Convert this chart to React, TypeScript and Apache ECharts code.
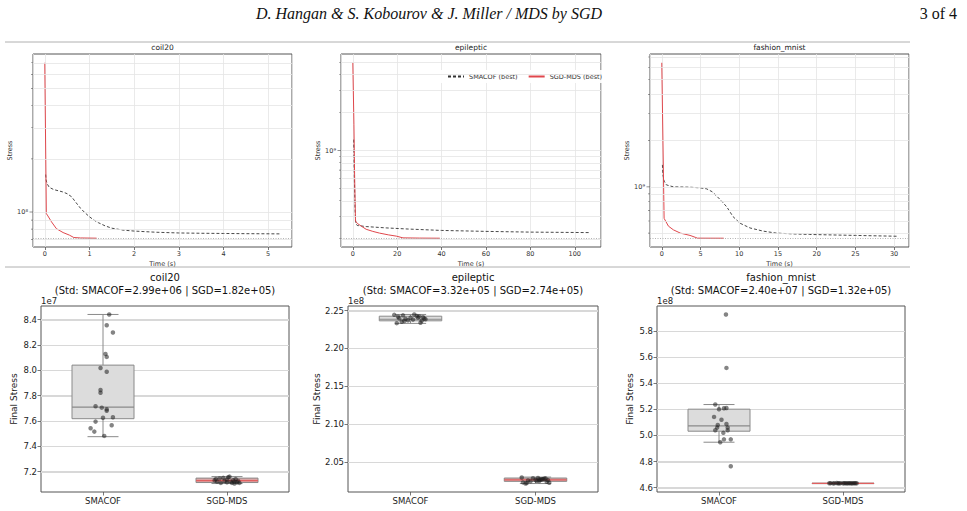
import React, { useEffect, useRef } from 'react';
import * as echarts from 'echarts';

// ---------- convergence traces: time (s) and stress ----------
const COIL_SMACOF_T = [0.02, 0.03, 0.05, 0.1, 0.2, 0.3, 0.4, 0.5, 0.6, 0.7, 0.8, 0.9, 1.0, 1.1, 1.2, 1.35, 1.5, 1.75, 2.0, 2.5, 3.0, 3.5, 4.0, 4.5, 5.27];
const COIL_SMACOF_S = [1.63e8, 1.52e8, 1.45e8, 1.38e8, 1.34e8, 1.32e8, 1.3e8, 1.27e8, 1.22e8, 1.13e8, 1.05e8, 9.9e7, 9.4e7, 9.0e7, 8.7e7, 8.35e7, 8.1e7, 7.9e7, 7.8e7, 7.68e7, 7.61e7, 7.58e7, 7.56e7, 7.54e7, 7.52e7];
const COIL_SGD_T = [0, 0.035, 0.07, 0.15, 0.26, 0.41, 0.55, 0.65, 0.8, 1.16];
const COIL_SGD_S = [7.0e8, 9.8e7, 9.5e7, 8.8e7, 8.05e7, 7.65e7, 7.4e7, 7.17e7, 7.13e7, 7.11e7];

const EPI_SMACOF_T = [0.4, 0.7, 1.0, 1.3, 2, 6, 15, 25, 40, 60, 80, 106.5];
const EPI_SMACOF_S = [1.22e9, 6.0e8, 3.5e8, 2.65e8, 2.55e8, 2.5e8, 2.44e8, 2.39e8, 2.33e8, 2.29e8, 2.26e8, 2.24e8];
const EPI_SGD_T = [0, 0.5, 0.8, 1.2, 2, 3.8, 6, 9, 12, 16, 19.6, 22.6, 30, 39.2];
const EPI_SGD_S = [4.95e9, 1.6e9, 6.5e8, 2.77e8, 2.65e8, 2.52e8, 2.38e8, 2.29e8, 2.22e8, 2.15e8, 2.1e8, 2.035e8, 2.027e8, 2.022e8];

const FM_SMACOF_T = [0.08, 0.15, 0.3, 0.6, 1.5, 3.6, 5, 5.8, 6.5, 7.1, 7.7, 8.4, 9.2, 10.1, 11.4, 13.1, 14.8, 17, 19.1, 25, 30.4];
const FM_SMACOF_S = [1.39e9, 1.2e9, 1.09e9, 1.03e9, 1.0e9, 0.995e9, 0.985e9, 0.97e9, 0.93e9, 0.87e9, 0.81e9, 0.74e9, 0.64e9, 0.58e9, 0.54e9, 0.515e9, 0.5e9, 0.494e9, 0.49e9, 0.483e9, 0.477e9];
const FM_SGD_T = [0, 0.3, 0.86, 1.5, 2.4, 3.65, 4.4, 4.6, 8.0];
const FM_SGD_S = [6.42e9, 6.24e8, 5.55e8, 5.25e8, 5.0e8, 4.83e8, 4.68e8, 4.635e8, 4.632e8];

// best final stress of SGD-MDS (dotted reference line)
const BEST_SGD = [7.105e7, 2.0215e8, 4.631e8];

// ---------- final stress distributions ----------
const CATEGORIES = ['SMACOF', 'SGD-MDS'];
// [lower whisker, Q1, median, Q3, upper whisker]
const COIL_BOX_SMACOF = [7.475, 7.617, 7.709, 8.04, 8.44];
const COIL_BOX_SGD = [7.105, 7.113, 7.128, 7.148, 7.16];
const EPI_BOX_SMACOF = [2.233, 2.2364, 2.2385, 2.2425, 2.2448];
const EPI_BOX_SGD = [2.0215, 2.0244, 2.0264, 2.0288, 2.03];
const FM_BOX_SMACOF = [4.948, 5.0325, 5.073, 5.2014, 5.237];
const FM_BOX_SGD = [4.631, 4.632, 4.633, 4.634, 4.635];

// individual runs (values in units of the axis offset) and their horizontal jitter
const COIL_PTS_SMACOF = [8.44, 8.355, 8.298, 8.128, 8.105, 8.017, 7.988, 7.843, 7.822, 7.715, 7.704, 7.691, 7.68, 7.625, 7.628, 7.594, 7.565, 7.542, 7.515, 7.481];
const COIL_JIT_SMACOF = [0.05, 0.03, 0.08, 0.02, 0.03, -0.02, 0.03, -0.02, -0.02, -0.06, -0.01, 0.03, 0.03, 0.0, 0.08, -0.06, 0.07, -0.1, -0.07, 0.01];
const COIL_PTS_SGD = [7.13, 7.12, 7.145, 7.11, 7.15, 7.125, 7.115, 7.155, 7.16, 7.12, 7.11, 7.13, 7.105, 7.14, 7.115, 7.125, 7.11, 7.14, 7.135, 7.12];
const COIL_JIT_SGD = [-0.1, -0.08, -0.06, -0.05, -0.03, -0.02, 0.0, 0.01, 0.02, 0.03, 0.04, 0.05, 0.06, 0.07, 0.08, 0.09, 0.1, -0.09, 0.0, 0.06];

const EPI_PTS_SMACOF = [2.2443, 2.2448, 2.2436, 2.2412, 2.2398, 2.2421, 2.2385, 2.2372, 2.2339, 2.2333, 2.2405, 2.2391, 2.2428, 2.2365, 2.2352, 2.2417, 2.2380, 2.2395, 2.2362, 2.2408];
const EPI_JIT_SMACOF = [-0.13, 0.03, -0.06, 0.1, -0.09, 0.07, 0.12, -0.02, 0.08, -0.11, 0.0, -0.04, 0.05, 0.09, -0.07, -0.1, 0.02, 0.11, -0.05, 0.06];
const EPI_PTS_SGD = [2.0295, 2.0215, 2.0285, 2.0262, 2.0248, 2.0271, 2.0279, 2.0238, 2.0225, 2.0289, 2.0256, 2.0266, 2.0244, 2.0283, 2.0230, 2.0274, 2.0252, 2.0260, 2.0221, 2.0268];
const EPI_JIT_SGD = [-0.11, -0.08, -0.02, 0.0, 0.03, 0.05, 0.07, 0.09, 0.11, 0.02, -0.06, 0.04, -0.04, 0.08, -0.1, 0.06, 0.01, 0.1, -0.07, 0.03];

const FM_PTS_SMACOF = [5.928, 5.518, 5.237, 5.208, 5.201, 5.21, 5.142, 5.12, 5.088, 5.08, 5.06, 5.06, 5.04, 5.04, 5.02, 4.97, 4.97, 4.948, 4.764];
const FM_JIT_SMACOF = [0.056, 0.06, -0.03, 0.04, 0.0, 0.06, -0.04, 0.02, 0.06, -0.01, -0.015, 0.07, 0.07, -0.03, 0.035, 0.04, 0.095, 0.01, 0.095];
const FM_PTS_SGD = [4.633, 4.634, 4.632, 4.633, 4.635, 4.633, 4.632, 4.634, 4.633, 4.633, 4.634, 4.632, 4.633, 4.634, 4.633, 4.632, 4.633, 4.634, 4.633, 4.633];
const FM_JIT_SGD = [-0.11, -0.1, -0.08, -0.07, -0.05, -0.04, -0.03, -0.02, 0.0, 0.01, 0.02, 0.03, 0.04, 0.05, 0.06, 0.07, 0.08, 0.09, 0.1, 0.11];

const TITLES = ['coil20', 'epileptic', 'fashion_mnist'];
const STD_TEXT = [
  '(Std: SMACOF=2.99e+06 | SGD=1.82e+05)',
  '(Std: SMACOF=3.32e+05 | SGD=2.74e+05)',
  '(Std: SMACOF=2.40e+07 | SGD=1.32e+05)',
];
const OFFSET_TEXT = ['1e7', '1e8', '1e8'];
const LABEL_DECIMALS = [1, 2, 1];
const SPLITS = [7, 5, 7];
const TICK_STEP = [0.2, 0.05, 0.2];

const FONT = 'DejaVu Sans';
const RED = '#e0474c';
const FRAME = '#555';
const GRIDC = '#e4e4e4';
const GRIDC_BOX = '#d8d8d8';

const zip = (a: number[], b: number[]) => a.map((v, i) => [v, b[i]]);
const SUP = '⁰¹²³⁴⁵⁶⁷⁸⁹';
const logLabel = (v: number) => {
  const e = Math.log10(v);
  const r = Math.round(e);
  if (Math.abs(e - r) < 1e-6) return '10' + String(r).split('').map((d) => SUP[+d]).join('');
  return '';
};
// log-axis tick positions (1..9 x 10^k) inside the extent
const decadeTicks = (lo: number, hi: number) => {
  const out: { v: number; major: boolean }[] = [];
  for (let k = Math.floor(Math.log10(lo)); k <= Math.ceil(Math.log10(hi)); k++) {
    for (let m = 1; m <= 9; m++) {
      const v = m * Math.pow(10, k);
      if (v > lo * 1.0001 && v < hi * 0.9999) out.push({ v, major: m === 1 });
    }
  }
  return out;
};
// linear tick positions (multiples of step) inside the extent
const linearTicks = (lo: number, hi: number, step: number) => {
  const out: number[] = [];
  for (let k = Math.ceil(lo / step - 1e-9); k * step < hi - 1e-9; k++) out.push(+(k * step).toFixed(6));
  return out;
};

export default function App() {
  const ref = useRef<HTMLDivElement>(null);

  useEffect(() => {
    if (!ref.current) return;
    const chart = echarts.init(ref.current, null, { renderer: 'svg' });

    const traces = [
      { smT: COIL_SMACOF_T, smS: COIL_SMACOF_S, sgT: COIL_SGD_T, sgS: COIL_SGD_S },
      { smT: EPI_SMACOF_T, smS: EPI_SMACOF_S, sgT: EPI_SGD_T, sgS: EPI_SGD_S },
      { smT: FM_SMACOF_T, smS: FM_SMACOF_S, sgT: FM_SGD_T, sgS: FM_SGD_S },
    ];
    const boxes = [
      { box: [COIL_BOX_SMACOF, COIL_BOX_SGD], pts: [COIL_PTS_SMACOF, COIL_PTS_SGD], jit: [COIL_JIT_SMACOF, COIL_JIT_SGD] },
      { box: [EPI_BOX_SMACOF, EPI_BOX_SGD], pts: [EPI_PTS_SMACOF, EPI_PTS_SGD], jit: [EPI_JIT_SMACOF, EPI_JIT_SGD] },
      { box: [FM_BOX_SMACOF, FM_BOX_SGD], pts: [FM_PTS_SMACOF, FM_PTS_SGD], jit: [FM_JIT_SMACOF, FM_JIT_SGD] },
    ];

    const topGrids = [
      { left: 33, top: 54, width: 259, height: 193 },
      { left: 341, top: 54, width: 260, height: 193 },
      { left: 650, top: 54, width: 259, height: 193 },
    ];
    const botGrids = [
      { left: 41, top: 306, width: 248, height: 186 },
      { left: 348, top: 306, width: 250, height: 186 },
      { left: 657, top: 306, width: 248, height: 186 },
    ];

    const grid: any[] = [];
    const xAxis: any[] = [];
    const yAxis: any[] = [];
    const series: any[] = [];
    const graphic: any[] = [];

    // ---------- top row: stress vs time (log scale) ----------
    traces.forEach((tr, i) => {
      const g = topGrids[i];
      grid.push({ ...g, show: true, borderColor: FRAME, borderWidth: 1 });
      const allT = [...tr.smT, ...tr.sgT];
      const allS = [...tr.smS, ...tr.sgS, BEST_SGD[i]];
      const tMin = Math.min(...allT), tMax = Math.max(...allT);
      const tPad = (tMax - tMin) * 0.05;
      const lMin = Math.log10(Math.min(...allS)), lMax = Math.log10(Math.max(...allS));
      const lPad = (lMax - lMin) * 0.05;
      const xMin = tMin - tPad, xMax = tMax + tPad;
      const yMin = Math.pow(10, lMin - lPad), yMax = Math.pow(10, lMax + lPad);

      xAxis.push({
        type: 'value', gridIndex: i, min: xMin, max: xMax, splitNumber: 5,
        name: 'Time (s)', nameLocation: 'middle', nameGap: 13,
        nameTextStyle: { fontSize: 6.5, color: '#333', fontFamily: FONT },
        axisLine: { show: false, onZero: false },
        axisTick: { show: true, length: 3, lineStyle: { color: FRAME, width: 0.8 } },
        axisLabel: { fontSize: 6.5, color: '#333', margin: 3, showMinLabel: false, showMaxLabel: false, fontFamily: FONT },
        splitLine: { show: true, lineStyle: { color: GRIDC, width: 0.8 } },
      });
      yAxis.push({
        type: 'log', logBase: 10, gridIndex: i, min: yMin, max: yMax,
        name: 'Stress', nameLocation: 'middle', nameGap: 18,
        nameTextStyle: { fontSize: 6.5, color: '#333', fontFamily: FONT },
        axisLine: { show: false, onZero: false },
        axisTick: { show: false },
        axisLabel: { fontSize: 6.5, color: '#333', margin: 5, formatter: logLabel, showMinLabel: false, showMaxLabel: false, fontFamily: FONT },
        splitLine: { show: false },
      });

      const ticks = decadeTicks(yMin, yMax);
      // horizontal grid lines (major and minor decades)
      series.push({
        type: 'line', xAxisIndex: i, yAxisIndex: i, data: [[0, ticks[0].v]], showSymbol: false,
        lineStyle: { opacity: 0 }, silent: true, z: 1,
        markLine: {
          silent: true, symbol: 'none', label: { show: false }, animation: false,
          lineStyle: { color: GRIDC, width: 0.8, type: 'solid' },
          data: ticks.map((t) => ({ yAxis: t.v })),
        },
      });
      // tick marks on the left spine
      series.push({
        type: 'scatter', xAxisIndex: i, yAxisIndex: i, silent: true, clip: false, z: 5,
        data: ticks.map((t) => ({
          value: [xMin, t.v],
          symbolSize: t.major ? [3.5, 0.8] : [2, 0.6],
          symbolOffset: t.major ? [-1.75, 0] : [-1, 0],
        })),
        symbol: 'rect', itemStyle: { color: FRAME },
      });
      series.push({
        name: 'SMACOF (best)', type: 'line', xAxisIndex: i, yAxisIndex: i, z: 3,
        data: zip(tr.smT, tr.smS), showSymbol: false, symbol: 'none',
        lineStyle: { color: '#333', width: 0.9, type: [3, 2] }, itemStyle: { color: '#333' },
      });
      series.push({
        name: 'SGD-MDS (best)', type: 'line', xAxisIndex: i, yAxisIndex: i, z: 4,
        data: zip(tr.sgT, tr.sgS), showSymbol: false, symbol: 'none',
        lineStyle: { color: RED, width: 1 }, itemStyle: { color: RED },
        markLine: {
          silent: true, symbol: 'none', label: { show: false }, animation: false,
          lineStyle: { color: '#aaa', width: 0.9, type: [1, 1.5] },
          data: [{ yAxis: BEST_SGD[i] }],
        },
      });

      graphic.push({
        type: 'text', x: g.left + g.width / 2, y: 47,
        style: { text: TITLES[i], fontSize: 7.5, fontFamily: FONT, fill: '#222', align: 'center', verticalAlign: 'middle', textAlign: 'center', textVerticalAlign: 'middle' },
      });
    });

    // ---------- bottom row: final stress distributions ----------
    boxes.forEach((bx, j) => {
      const g = botGrids[j];
      const gi = 3 + j;
      grid.push({ ...g, show: true, borderColor: FRAME, borderWidth: 1 });
      const allV = [...bx.box[0], ...bx.box[1], ...bx.pts[0], ...bx.pts[1]];
      const vMin = Math.min(...allV), vMax = Math.max(...allV);
      const pad = (vMax - vMin) * 0.05;
      const yLo = vMin - pad, yHi = vMax + pad;
      const dec = LABEL_DECIMALS[j];
      const gridValues = linearTicks(yLo, yHi, TICK_STEP[j]);

      xAxis.push({
        type: 'category', gridIndex: gi, data: CATEGORIES,
        axisLine: { show: false, onZero: false },
        axisTick: { show: true, alignWithLabel: true, length: 3.5, lineStyle: { color: FRAME, width: 0.8 } },
        axisLabel: { fontSize: 8.5, color: '#222', margin: 4, fontFamily: FONT },
        splitLine: { show: false },
        splitArea: { show: false },
      });
      yAxis.push({
        type: 'value', gridIndex: gi, min: yLo, max: yHi, splitNumber: SPLITS[j],
        name: 'Final Stress', nameLocation: 'middle', nameGap: 23,
        nameTextStyle: { fontSize: 9, color: '#222', fontFamily: FONT },
        axisLine: { show: false, onZero: false },
        axisTick: { show: true, length: 3.5, lineStyle: { color: FRAME, width: 0.8 } },
        axisLabel: {
          fontSize: 8.5, color: '#222', margin: 4, fontFamily: FONT, showMinLabel: false, showMaxLabel: false,
          formatter: (v: number) => v.toFixed(dec),
        },
        splitLine: { show: true, showMinLine: false, showMaxLine: false, lineStyle: { color: GRIDC_BOX, width: 1 } },
        splitArea: { show: false },
      });

      const fills = ['#dcdcdc', '#dca5a5'];
      const medians = ['#8a8a8a', '#e06060'];
      series.push({
        type: 'custom', xAxisIndex: gi, yAxisIndex: gi, z: 3, silent: true,
        data: bx.box.map((b, k) => [k, ...b]),
        encode: { x: 0, y: [1, 2, 3, 4, 5] },
        renderItem: (params: any, api: any) => {
          const k = api.value(0);
          const lo = api.coord([k, api.value(1)]);
          const q1 = api.coord([k, api.value(2)]);
          const md = api.coord([k, api.value(3)]);
          const q3 = api.coord([k, api.value(4)]);
          const hi = api.coord([k, api.value(5)]);
          const band = api.size([1, 0])[0];
          const bw = band * 0.5;
          const cw = bw * 0.5;
          const cx = md[0];
          const edge = { stroke: '#8a8a8a', lineWidth: 1 };
          const cs = params.coordSys;
          // horizontal grid lines, laid down once beneath the first box
          const gridLines = k === 0
            ? gridValues.map((v) => {
                const y = Math.round(api.coord([0, v])[1]) + 0.5;
                return { type: 'line', shape: { x1: cs.x, y1: y, x2: cs.x + cs.width, y2: y }, style: { stroke: GRIDC_BOX, lineWidth: 1 } };
              })
            : [];
          return {
            type: 'group',
            children: [
              ...gridLines,
              { type: 'line', shape: { x1: cx, y1: q3[1], x2: cx, y2: hi[1] }, style: edge },
              { type: 'line', shape: { x1: cx, y1: q1[1], x2: cx, y2: lo[1] }, style: edge },
              { type: 'line', shape: { x1: cx - cw / 2, y1: hi[1], x2: cx + cw / 2, y2: hi[1] }, style: edge },
              { type: 'line', shape: { x1: cx - cw / 2, y1: lo[1], x2: cx + cw / 2, y2: lo[1] }, style: edge },
              { type: 'rect', shape: { x: cx - bw / 2, y: q3[1], width: bw, height: Math.max(q1[1] - q3[1], 0.5) }, style: { fill: fills[k], stroke: '#8a8a8a', lineWidth: 1 } },
              { type: 'line', shape: { x1: cx - bw / 2, y1: md[1], x2: cx + bw / 2, y2: md[1] }, style: { stroke: medians[k], lineWidth: 1.2 } },
            ],
          };
        },
      });

      // jittered runs on a hidden numeric axis that shares the grid
      const xi = 6 + j;
      series.push({
        type: 'scatter', xAxisIndex: xi, yAxisIndex: gi, z: 5, silent: true,
        symbolSize: 4.5,
        itemStyle: { color: 'rgba(30,30,30,0.68)' },
        data: [
          ...bx.pts[0].map((v, k) => [0 + bx.jit[0][k], v]),
          ...bx.pts[1].map((v, k) => [1 + bx.jit[1][k], v]),
        ],
      });

      graphic.push({
        type: 'text', x: g.left + g.width / 2, y: 277,
        style: { text: TITLES[j], fontSize: 10, fontFamily: FONT, fill: '#111', align: 'center', verticalAlign: 'middle', textAlign: 'center', textVerticalAlign: 'middle' },
      });
      graphic.push({
        type: 'text', x: g.left + g.width / 2, y: 290,
        style: { text: STD_TEXT[j], fontSize: 10, fontFamily: FONT, fill: '#111', align: 'center', verticalAlign: 'middle', textAlign: 'center', textVerticalAlign: 'middle' },
      });
      graphic.push({
        type: 'text', x: g.left, y: 301,
        style: { text: OFFSET_TEXT[j], fontSize: 8.5, fontFamily: FONT, fill: '#222', align: 'left', verticalAlign: 'middle', textAlign: 'left', textVerticalAlign: 'middle' },
      });
    });

    botGrids.forEach((g, j) => {
      xAxis.push({
        type: 'value', gridIndex: 3 + j, min: -0.5, max: 1.5,
        axisLine: { show: false, onZero: false }, axisTick: { show: false }, axisLabel: { show: false },
        splitLine: { show: false }, splitArea: { show: false },
      });
    });

    // page header and panel separators
    graphic.push(
      {
        type: 'text', x: 429, y: 13,
        style: { text: 'D. Hangan & S. Kobourov & J. Miller / MDS by SGD', fontSize: 16, fontFamily: 'Liberation Serif', fontStyle: 'italic', fill: '#111', align: 'center', verticalAlign: 'middle', textAlign: 'center', textVerticalAlign: 'middle' },
      },
      {
        type: 'text', x: 957, y: 13,
        style: { text: '3 of 4', fontSize: 16, fontFamily: 'Liberation Serif', fill: '#111', align: 'right', verticalAlign: 'middle', textAlign: 'right', textVerticalAlign: 'middle' },
      },
      { type: 'line', shape: { x1: 5, y1: 42, x2: 910, y2: 42 }, style: { stroke: '#b0b0b0', lineWidth: 1 } },
      { type: 'line', shape: { x1: 5, y1: 267, x2: 910, y2: 267 }, style: { stroke: '#b0b0b0', lineWidth: 1 } },
    );

    chart.setOption({
      animation: false,
      backgroundColor: '#fff',
      textStyle: { fontFamily: FONT },
      grid,
      xAxis,
      yAxis,
      series,
      graphic,
      legend: {
        data: ['SMACOF (best)', 'SGD-MDS (best)'],
        left: 441, top: 70,
        itemWidth: 16, itemHeight: 8, itemGap: 10,
        itemStyle: { opacity: 0 },
        textStyle: { fontSize: 6.5, color: '#333', fontFamily: FONT },
        backgroundColor: 'rgba(255,255,255,0.92)',
        padding: [3, 6],
        selectedMode: false,
      },
    });

    return () => chart.dispose();
  }, []);

  return <div ref={ref} style={{ position: 'absolute', left: 0, top: 0, width: 967, height: 511 }} />;
}
